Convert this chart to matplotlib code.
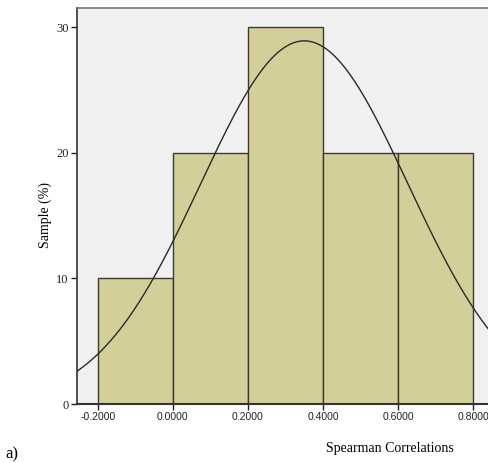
import numpy as np
import matplotlib
matplotlib.use('Agg')
import matplotlib.pyplot as plt

# histogram of spearman correlations, percent of sample per bin
bin_edges = [-0.2, 0.0, 0.2, 0.4, 0.6, 0.8]
sample_pct = [10, 20, 30, 20, 20]
xtick_vals = [-0.2, 0.0, 0.2, 0.4, 0.6, 0.8]
xtick_labels = ['-0.2000', '0.0000', '0.2000', '0.4000', '0.6000', '0.8000']
ytick_vals = [0, 10, 20, 30]

# fitted normal curve
fit_mean = 0.35
fit_sd = 0.276
binW = 0.2

fig = plt.figure(figsize=(4.89, 4.63), dpi=100)
ax = fig.add_axes([0.157, 0.1274, 0.866, 0.856])
ax.set_facecolor('#f0f0f0')

lefts = bin_edges[:-1]
ax.bar(lefts, sample_pct, width=binW, align='edge', color='#d3cf99',
       edgecolor='#3a3a30', linewidth=1.0, zorder=2)

xs = np.linspace(-0.3, 0.9, 400)
ys = 100 * binW / (fit_sd * np.sqrt(2 * np.pi)) * np.exp(-0.5 * ((xs - fit_mean) / fit_sd) ** 2)
ax.plot(xs, ys, color='#2a2a2a', linewidth=1.0, zorder=3)

ax.set_xlim(-0.256, 0.872)
ax.set_ylim(0, 31.55)
ax.set_xticks(xtick_vals)
ax.set_xticklabels(xtick_labels, fontsize=7.5, family='Liberation Sans')
ax.set_yticks(ytick_vals)
ax.set_yticklabels([str(v) for v in ytick_vals], fontsize=9, family='Liberation Serif')
ax.tick_params(direction='out', length=4, width=1, colors='#222222', pad=2)

for s in ['left', 'bottom', 'top']:
    ax.spines[s].set_color('#333333')
    ax.spines[s].set_linewidth(1.2)
ax.spines['bottom'].set_linewidth(1.5)
ax.spines['right'].set_visible(False)
ax.spines['top'].set_color('#777777')

fig.text(0.092, 0.535, 'Sample (%)', rotation=90, ha='center', va='center',
         fontsize=10, family='Liberation Serif')
fig.text(0.797, 0.017, 'Spearman Correlations', ha='center', va='bottom',
         fontsize=10, family='Liberation Serif')
fig.text(0.012, 0.002, 'a)', ha='left', va='bottom', fontsize=12, family='Liberation Serif')

fig.savefig('out.png', dpi=100)
